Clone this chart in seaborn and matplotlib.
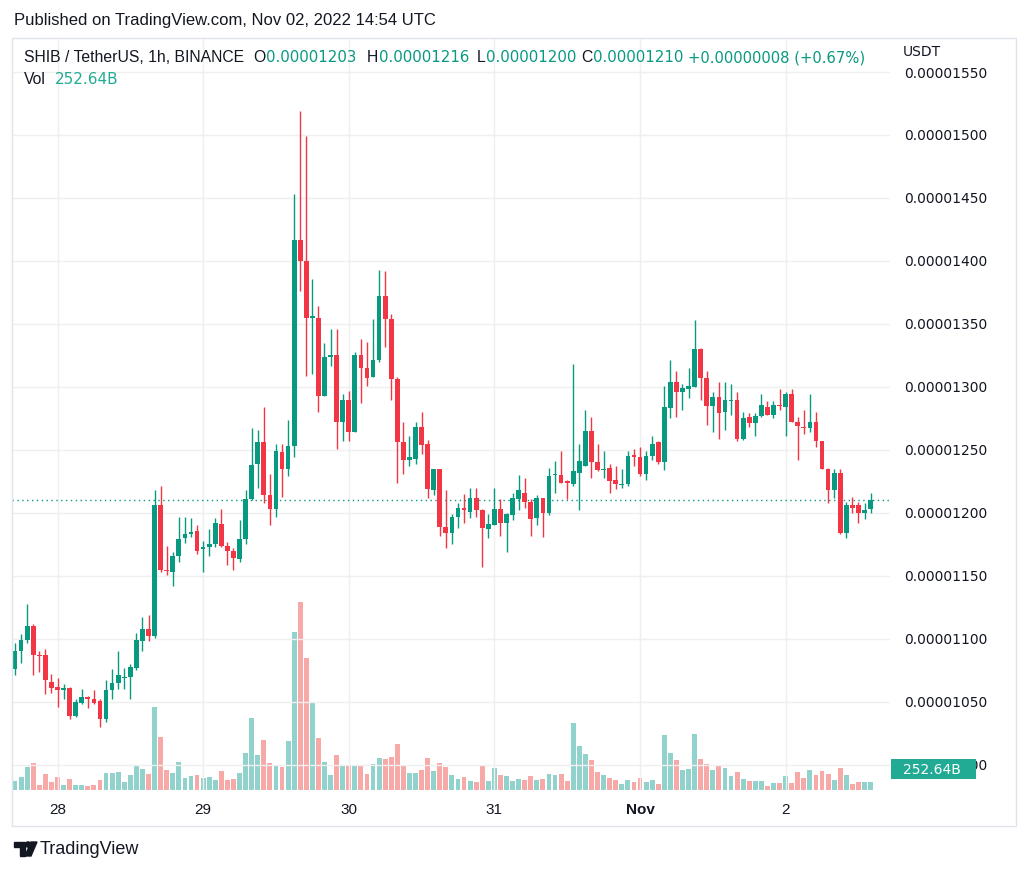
import numpy as np
import pandas as pd
import matplotlib
matplotlib.use("Agg")
import matplotlib.pyplot as plt
from matplotlib.patches import Rectangle, Polygon, Circle
from matplotlib.transforms import IdentityTransform
import seaborn as sns

# hourly candles SHIB/USDT, Oct 27 17:00 -> Nov 2 14:00 UTC (hour 0 = Oct 28 00:00)
first_hour = -7

# prices in units of 1e-8 USDT
open_e8 = [
    1076, 1090, 1099, 1110, 1087, 1087, 1066, 1062, 1059, 1061,
    1039, 1049, 1054, 1052, 1051, 1036, 1059, 1065, 1069, 1070,
    1077, 1098, 1108, 1102, 1206, 1155, 1153, 1166, 1180, 1183,
    1186, 1171, 1173, 1175, 1191, 1174, 1170, 1163, 1179, 1211,
    1239, 1256, 1214, 1203, 1248, 1235, 1253, 1417, 1400, 1355,
    1355, 1293, 1324, 1325, 1272, 1290, 1264, 1325, 1315, 1308,
    1321, 1372, 1354, 1306, 1256, 1242, 1243, 1268, 1255, 1218,
    1235, 1189, 1184, 1197, 1204, 1201, 1212, 1202, 1187, 1190,
    1203, 1192, 1198, 1211, 1216, 1209, 1196, 1212, 1200, 1230,
    1230, 1225, 1223, 1232, 1237, 1265, 1240, 1234, 1236, 1226,
    1222, 1223, 1246, 1244, 1231, 1245, 1256, 1240, 1283, 1304,
    1296, 1298, 1300, 1330, 1307, 1285, 1292, 1280, 1289, 1290,
    1259, 1276, 1271, 1277, 1284, 1278, 1286, 1284, 1294, 1272,
    1268, 1267, 1272, 1257, 1235, 1218, 1232, 1184, 1206, 1206,
    1200, 1203]
high_e8 = [
    1097, 1104, 1128, 1112, 1090, 1092, 1072, 1069, 1064, 1062,
    1052, 1060, 1055, 1059, 1052, 1067, 1076, 1090, 1077, 1080,
    1105, 1117, 1119, 1218, 1221, 1174, 1169, 1197, 1197, 1196,
    1190, 1178, 1187, 1196, 1203, 1177, 1172, 1194, 1218, 1267,
    1266, 1284, 1231, 1255, 1255, 1274, 1453, 1519, 1499, 1386,
    1364, 1335, 1346, 1346, 1294, 1297, 1328, 1338, 1336, 1354,
    1393, 1392, 1358, 1308, 1272, 1261, 1272, 1280, 1258, 1235,
    1235, 1218, 1199, 1208, 1215, 1220, 1220, 1203, 1199, 1220,
    1211, 1200, 1216, 1230, 1228, 1211, 1214, 1212, 1236, 1241,
    1249, 1226, 1318, 1255, 1282, 1276, 1255, 1249, 1239, 1237,
    1235, 1249, 1251, 1252, 1249, 1261, 1257, 1301, 1321, 1313,
    1302, 1315, 1353, 1331, 1313, 1296, 1304, 1304, 1302, 1296,
    1280, 1279, 1279, 1294, 1289, 1289, 1298, 1296, 1298, 1276,
    1282, 1294, 1280, 1257, 1236, 1235, 1235, 1209, 1213, 1209,
    1208, 1216]
low_e8 = [
    1071, 1081, 1097, 1071, 1074, 1056, 1057, 1046, 1052, 1036,
    1038, 1048, 1045, 1048, 1030, 1034, 1052, 1060, 1060, 1052,
    1075, 1090, 1098, 1101, 1153, 1151, 1142, 1161, 1176, 1181,
    1167, 1153, 1166, 1173, 1173, 1159, 1155, 1161, 1175, 1210,
    1220, 1208, 1190, 1197, 1213, 1229, 1244, 1376, 1309, 1310,
    1280, 1293, 1317, 1251, 1257, 1257, 1264, 1287, 1301, 1308,
    1320, 1332, 1290, 1224, 1231, 1237, 1239, 1247, 1212, 1214,
    1182, 1172, 1175, 1188, 1192, 1196, 1197, 1157, 1180, 1190,
    1182, 1169, 1194, 1202, 1204, 1182, 1190, 1181, 1198, 1216,
    1224, 1211, 1221, 1202, 1237, 1228, 1233, 1228, 1216, 1219,
    1220, 1221, 1237, 1229, 1226, 1242, 1239, 1234, 1275, 1276,
    1282, 1291, 1300, 1290, 1270, 1264, 1259, 1266, 1278, 1257,
    1258, 1268, 1261, 1276, 1278, 1275, 1282, 1261, 1272, 1242,
    1263, 1264, 1252, 1235, 1208, 1212, 1183, 1180, 1200, 1192,
    1195, 1200]
close_e8 = [
    1090, 1099, 1110, 1087, 1086, 1067, 1061, 1059, 1061, 1039,
    1050, 1054, 1052, 1049, 1036, 1059, 1065, 1071, 1070, 1078,
    1099, 1108, 1102, 1206, 1155, 1154, 1166, 1179, 1183, 1185,
    1170, 1173, 1175, 1192, 1174, 1170, 1164, 1179, 1211, 1238,
    1256, 1214, 1203, 1249, 1235, 1253, 1417, 1400, 1355, 1356,
    1293, 1324, 1325, 1272, 1290, 1264, 1325, 1315, 1307, 1321,
    1372, 1354, 1306, 1256, 1242, 1244, 1268, 1254, 1219, 1235,
    1189, 1184, 1197, 1204, 1202, 1212, 1202, 1188, 1191, 1203,
    1192, 1199, 1212, 1218, 1209, 1195, 1212, 1200, 1229, 1231,
    1224, 1224, 1233, 1241, 1265, 1240, 1234, 1235, 1225, 1223,
    1223, 1245, 1244, 1231, 1245, 1255, 1240, 1284, 1304, 1296,
    1299, 1301, 1330, 1307, 1285, 1292, 1279, 1290, 1290, 1259,
    1275, 1271, 1277, 1286, 1278, 1286, 1285, 1294, 1272, 1269,
    1267, 1272, 1257, 1235, 1218, 1232, 1184, 1206, 1204, 1200,
    1202, 1210]
# volume in billions
volume_b = [
    264, 386, 699, 821, 143, 486, 243, 404, 143, 344,
    143, 161, 131, 143, 295, 508, 526, 538, 243, 465,
    720, 638, 486, 2514, 1620, 617, 526, 860, 365, 426,
    465, 365, 386, 304, 568, 304, 325, 508, 1125, 2198,
    1055, 1520, 821, 730, 708, 1499, 4812, 5715, 4034, 2684,
    1581, 860, 465, 1073, 751, 751, 760, 760, 486, 781,
    964, 942, 1003, 1398, 760, 517, 517, 599, 964, 568,
    821, 699, 447, 325, 395, 274, 252, 769, 274, 660,
    456, 426, 274, 325, 313, 416, 295, 334, 496, 456,
    496, 274, 2046, 1338, 1094, 912, 556, 456, 356, 295,
    192, 295, 252, 374, 252, 295, 192, 1672, 1125, 912,
    608, 638, 1712, 933, 800, 599, 751, 660, 426, 547,
    334, 274, 274, 274, 131, 213, 213, 416, 213, 556,
    374, 599, 456, 578, 477, 295, 660, 456, 192, 252,
    234, 252.64]

day_ticks = [0, 24, 48, 72, 96, 120]
day_labels = ["28", "29", "30", "31", "Nov", "2"]
price_ticks_e8 = [1000, 1050, 1100, 1150, 1200, 1250, 1300, 1350, 1400, 1450, 1500, 1550]

UP, DOWN = "#089981", "#F23645"
VOL_UP, VOL_DOWN = "#92D2CC", "#F7A9A7"
TXT = "#131722"
NUM_FONT = "DejaVu Sans"

W, H = 1024, 872

def fx(x):
    return x / W

def fy(y):
    return 1 - y / H

o = np.array(open_e8) * 1e-8
h = np.array(high_e8) * 1e-8
l = np.array(low_e8) * 1e-8
c = np.array(close_e8) * 1e-8
hours = first_hour + np.arange(len(o))
side = np.where(c >= o, "up", "down")
colors = np.where(c >= o, UP, DOWN)

sns.set_style("white")
plt.rcParams["font.family"] = ["Liberation Sans", "DejaVu Sans"]

fig = plt.figure(figsize=(W / 100, H / 100), dpi=100)
ax = fig.add_axes([fx(12), fy(790), fx(890) - fx(12), fy(38) - fy(790)])
axv = ax.twinx()
ax.set_zorder(axv.get_zorder() + 1)
ax.patch.set_visible(False)

# volume
df = pd.DataFrame({"hour": hours, "volume": volume_b, "side": side})
sns.barplot(data=df, x="hour", y="volume", hue="side", hue_order=["up", "down"],
            palette={"up": VOL_UP, "down": VOL_DOWN}, native_scale=True, dodge=False,
            width=0.8, saturation=1, errorbar=None, legend=False, linewidth=0, ax=axv)
axv.set_ylim(0, 22900)
axv.set_yticks([])
axv.set_xlabel("")
axv.set_ylabel("")

# candles
ax.vlines(hours, l, h, colors=colors, lw=1, zorder=3)
body_lo = np.minimum(o, c)
body_h = np.maximum(np.abs(c - o), 0.8e-8)
ax.bar(hours, body_h, bottom=body_lo, width=0.78, color=colors, lw=0, zorder=4)

# last price line
ax.axhline(c[-1], color=UP, lw=1, ls=(0, (1, 2.5)), zorder=2)

ax.set_xlim(first_hour - 0.5, first_hour + 144.2)
ax.set_ylim(980e-8, 1577e-8)

ax.set_xticks(day_ticks)
ax.set_xticklabels(day_labels, fontsize=11, color=TXT)
ax.get_xticklabels()[4].set_fontweight("bold")
ax.set_yticks(np.array(price_ticks_e8) * 1e-8)
ax.set_yticklabels([f"{v * 1e-8:.8f}" for v in price_ticks_e8], fontsize=10,
                   color=TXT, family=NUM_FONT)
ax.yaxis.tick_right()
ax.tick_params(axis="x", length=0, pad=9)
ax.tick_params(axis="y", length=0, pad=10)
ax.grid(True, color="#EFEFEF", lw=1)
ax.set_axisbelow(True)
for a in (ax, axv):
    for s in a.spines.values():
        s.set_visible(False)

# header texts
fig.text(fx(14), fy(20), "Published on TradingView.com, Nov 02, 2022 14:54 UTC",
         fontsize=12, color=TXT, va="center")
fig.text(fx(24), fy(58), "SHIB / TetherUS, 1h, BINANCE", fontsize=11.3, color=TXT, va="center")
chg = close_e8[-1] - close_e8[-2]
pct = chg / close_e8[-2] * 100
ohlc = [("O", open_e8[-1], 266), ("H", high_e8[-1], 379),
        ("L", low_e8[-1], 486), ("C", close_e8[-1], 593)]
for key, val, xv in ohlc:
    fig.text(fx(xv - 0.5), fy(58), key, fontsize=11.3, color=TXT, va="center", ha="right")
    fig.text(fx(xv), fy(58), f"{val * 1e-8:.8f}", fontsize=10.8, color=UP, va="center",
             family=NUM_FONT)
fig.text(fx(688), fy(58), f"+{chg * 1e-8:.8f} (+{pct:.2f}%)", fontsize=10.6, color=UP,
         va="center", family=NUM_FONT)
fig.text(fx(24), fy(79), "Vol", fontsize=11.3, color=TXT, va="center")
fig.text(fx(55), fy(79), f"{volume_b[-1]:.2f}B", fontsize=11, color="#22AB94", va="center",
         family=NUM_FONT)
fig.text(fx(903), fy(52), "USDT", fontsize=10, color=TXT, va="center", family=NUM_FONT)

# current volume tag (sits over the lowest price label, as in the reference)
tag = Rectangle((891, H - 779), 85, 20, transform=IdentityTransform(),
                facecolor="#22AB94", edgecolor="none", zorder=5)
fig.add_artist(tag)
fig.text(fx(903), fy(769.5), f"{volume_b[-1]:.2f}B", fontsize=10, color="white",
         va="center", family=NUM_FONT, zorder=6)

# chart frame
frame = Rectangle((12, H - 826), 1004, 788, transform=IdentityTransform(),
                  facecolor="none", edgecolor="#E0E3EB", lw=1, zorder=4)
fig.add_artist(frame)

# TradingView logo
def px(pts):
    return [(x, H - y) for x, y in pts]

fig.add_artist(Polygon(px([(14, 842), (25, 842), (25, 856), (20, 856), (20, 847), (14, 847)]),
                       closed=True, transform=IdentityTransform(), color=TXT))
fig.add_artist(Circle((28, H - 844.5), 2.6, transform=IdentityTransform(), color=TXT))
fig.add_artist(Polygon(px([(31, 842), (37, 842), (31, 856), (25, 856)]),
                       closed=True, transform=IdentityTransform(), color=TXT))
fig.text(fx(40), fy(849), "TradingView", fontsize=13, color=TXT, va="center")

fig.savefig("out.png", dpi=100, facecolor="white")
